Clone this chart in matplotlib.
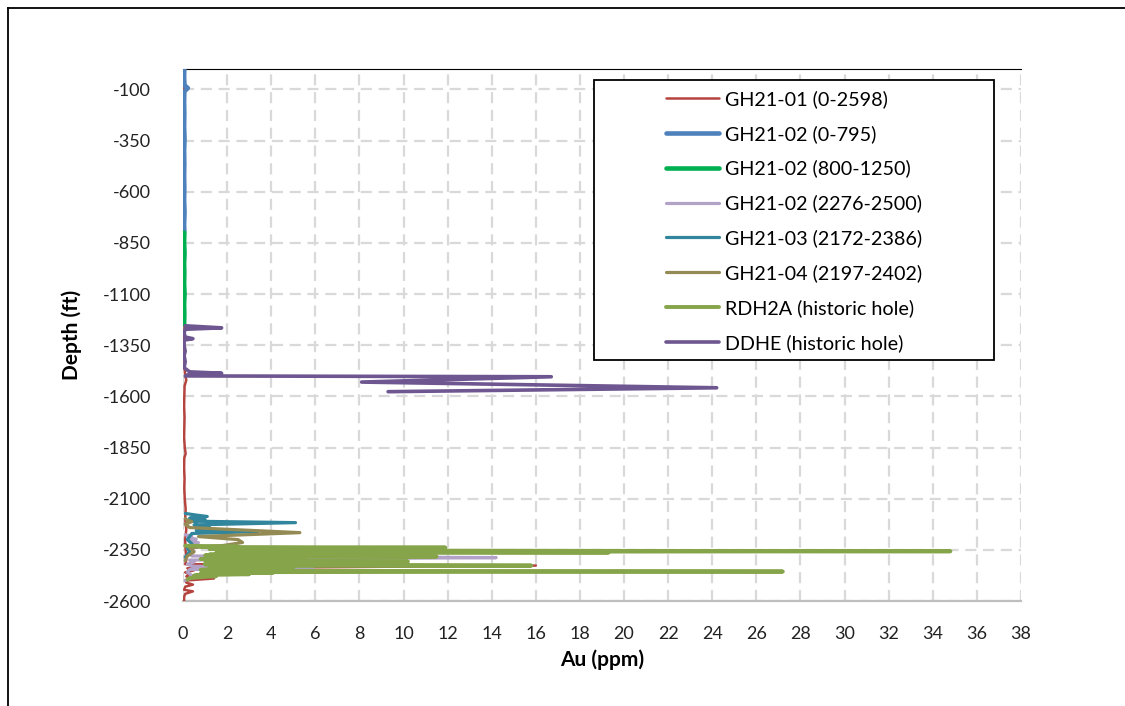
import matplotlib
matplotlib.use("Agg")
import matplotlib.pyplot as plt
from matplotlib.lines import Line2D
from matplotlib.patches import Rectangle

plt.rcParams['font.family'] = ['Lato', 'DejaVu Sans']

# ---- assay profiles: depth (ft, negative downwards) and gold grade (ppm) ----
gh2101_depth = [0, -50, -100, -150, -200, -250, -300, -350, -400, -450, -500,
                -550, -600, -650, -700, -750, -800, -850, -900, -950, -1000,
                -1050, -1100, -1150, -1200, -1250, -1300, -1350, -1400, -1450,
                -1500, -1520, -1550, -1600, -1650, -1700, -1750, -1800, -1850,
                -1880, -1900, -1950, -2000, -2050, -2100, -2150, -2200, -2250,
                -2300, -2350, -2400, -2420, -2427, -2440, -2450, -2460, -2470,
                -2480, -2490, -2500, -2510, -2520, -2530, -2545, -2553, -2565,
                -2580, -2598]
gh2101_au = [0.05, 0.06, 0.05, 0.07, 0.05, 0.06, 0.05, 0.07, 0.05, 0.06, 0.05,
             0.06, 0.05, 0.07, 0.05, 0.06, 0.05, 0.06, 0.05, 0.07, 0.05,
             0.06, 0.05, 0.06, 0.05, 0.07, 0.06, 0.05, 0.08, 0.06,
             0.10, 0.15, 0.07, 0.06, 0.05, 0.07, 0.06, 0.05, 0.08,
             0.12, 0.06, 0.05, 0.07, 0.06, 0.08, 0.12, 0.10, 0.15,
             0.10, 0.12, 0.15, 0.10, 16.0, 0.20, 0.50, 0.10, 0.30,
             0.15, 1.40, 0.10, 0.15, 0.45, 0.10, 0.05, 0.45, 0.10,
             0.05, 0.05]

gh2102a_depth = [0, -40, -80, -93, -110, -160, -220, -280, -340, -400, -460,
                 -520, -580, -640, -700, -760, -795]
gh2102a_au = [0.06, 0.05, 0.07, 0.22, 0.06, 0.05, 0.06, 0.05, 0.07, 0.05, 0.06,
              0.05, 0.06, 0.05, 0.07, 0.05, 0.06]

gh2102b_depth = [-800, -850, -900, -950, -1000, -1050, -1100, -1150, -1200, -1250]
gh2102b_au = [0.06, 0.05, 0.07, 0.05, 0.06, 0.05, 0.07, 0.05, 0.06, 0.05]

gh2102c_depth = [-2276, -2282, -2290, -2298, -2306, -2315, -2325, -2335, -2345,
                 -2355, -2365, -2380, -2388, -2393, -2400, -2410, -2420, -2430,
                 -2437, -2441, -2446, -2460, -2475, -2490, -2500]
gh2102c_au = [0.1, 0.4, 0.2, 0.6, 0.3, 0.7, 0.4, 0.3, 0.2,
              0.5, 0.3, 0.4, 14.2, 6.8, 0.3, 0.5, 0.2, 0.4,
              3.4, 5.9, 0.3, 0.2, 0.4, 0.3, 0.1]

gh2103_depth = [-2172, -2180, -2187, -2195, -2202, -2210, -2217, -2228, -2240,
                -2255, -2261, -2270, -2285, -2300, -2320, -2340, -2360, -2386]
gh2103_au = [0.1, 0.6, 1.1, 0.3, 1.0, 0.4, 5.1, 0.5, 1.2,
             0.6, 3.4, 0.4, 0.3, 0.2, 0.4, 0.2, 0.3, 0.1]

gh2104_depth = [-2197, -2205, -2212, -2225, -2241, -2266, -2285, -2300, -2314,
                -2329, -2340, -2360, -2380, -2402]
gh2104_au = [0.1, 0.2, 0.4, 0.1, 0.3, 5.3, 0.7, 2.5, 2.7,
             1.8, 0.3, 0.5, 0.2, 0.1]

rdh2a_depth = [-2330, -2334, -2336, -2339, -2342, -2344, -2346, -2348, -2350,
               -2352, -2353, -2357, -2360, -2363, -2365, -2367, -2369, -2371,
               -2373, -2375, -2377, -2379, -2383, -2385, -2387, -2389, -2391,
               -2393, -2395, -2397, -2399, -2401, -2403, -2407, -2409, -2411,
               -2413, -2415, -2417, -2419, -2421, -2423, -2427, -2429, -2431,
               -2433, -2436, -2438, -2440, -2442, -2444, -2446, -2448, -2450,
               -2452, -2456, -2459, -2461, -2464, -2466, -2469, -2471, -2474,
               -2476, -2479, -2482, -2488, -2495]
rdh2a_au = [0.1, 2.5, 0.8, 11.9, 2.5, 4.8, 1.2, 5.0, 1.5,
            3.8, 4.0, 34.8, 3.0, 19.3, 1.5, 4.5, 2.0, 6.5,
            1.2, 4.0, 1.0, 3.5, 11.5, 2.2, 5.0, 1.5, 5.5,
            2.0, 0.8, 4.2, 3.0, 1.0, 1.5, 10.2, 3.0, 2.5,
            5.0, 4.5, 1.0, 3.8, 1.0, 3.0, 15.8, 2.0, 4.5,
            1.5, 5.0, 2.2, 1.2, 4.0, 3.5, 1.0, 0.8, 3.2,
            2.5, 27.2, 2.0, 4.1, 1.0, 0.8, 3.0, 2.0, 0.6,
            0.5, 1.5, 1.0, 0.3, 0.2]

ddhe_depth = [-1255, -1265, -1272, -1290, -1310, -1318, -1325, -1350, -1380,
              -1400, -1430, -1460, -1480, -1487, -1495, -1500, -1504, -1530,
              -1558, -1577]
ddhe_au = [0.1, 1.75, 0.1, 0.05, 0.1, 0.45, 0.05, 0.05, 0.1,
           0.05, 0.1, 0.05, 0.3, 1.75, 0.2, 0.1, 16.7, 8.1,
           24.2, 9.3]

series_labels = ["GH21-01 (0-2598)", "GH21-02 (0-795)", "GH21-02 (800-1250)",
                 "GH21-02 (2276-2500)", "GH21-03 (2172-2386)",
                 "GH21-04 (2197-2402)", "RDH2A (historic hole)",
                 "DDHE (historic hole)"]

x_ticks = list(range(0, 39, 2))
y_ticks = list(range(-2600, 0, 250))

# ---- figure ----
W, H = 1125, 706
fig = plt.figure(figsize=(W / 100, H / 100), dpi=100)
fig.patch.set_facecolor("white")

ax = fig.add_axes([183 / W, 1 - 601 / H, 838 / W, 532 / H])

styles = [
    ("#B5443F", 1.8),
    ("#4F81BD", 3.3),
    ("#00B050", 3.3),
    ("#B3A2C7", 2.3),
    ("#31859C", 2.3),
    ("#948A54", 2.3),
    ("#86A44A", 2.8),
    ("#6E5690", 2.6),
]
data = [
    (gh2101_au, gh2101_depth),
    (gh2102a_au, gh2102a_depth),
    (gh2102b_au, gh2102b_depth),
    (gh2102c_au, gh2102c_depth),
    (gh2103_au, gh2103_depth),
    (gh2104_au, gh2104_depth),
    (rdh2a_au, rdh2a_depth),
    (ddhe_au, ddhe_depth),
]

handles = []
for (au, depth), (color, lw), label in zip(data, styles, series_labels):
    line, = ax.plot(au, depth, color=color, lw=lw, label=label,
                    solid_joinstyle="round", solid_capstyle="round", zorder=3)
    handles.append(line)

ax.set_xlim(0, 38)
ax.set_ylim(-2600, 0)
ax.set_xticks(x_ticks)
ax.set_yticks(y_ticks)
ax.set_xticklabels([str(v) for v in x_ticks])
ax.set_yticklabels([str(v) for v in y_ticks])
ax.tick_params(axis="both", length=0, labelsize=13, colors="#222222")
ax.tick_params(axis="y", pad=23)
ax.tick_params(axis="x", pad=18)

ax.grid(True, color="#D9D9D9", lw=1.6, linestyle=(0, (5, 3)), zorder=0)
ax.set_axisbelow(True)

for side in ("left", "right"):
    ax.spines[side].set_visible(False)
ax.spines["top"].set_color("#000000")
ax.spines["top"].set_linewidth(0.8)
ax.spines["bottom"].set_color("#BFBFBF")
ax.spines["bottom"].set_linewidth(1.6)

ax.set_xlabel("Au (ppm)", fontsize=15, fontweight="bold", labelpad=5)
ax.set_ylabel("Depth (ft)", fontsize=15, fontweight="bold", labelpad=15)

# legend box
fig.patches.append(Rectangle((594 / W, 1 - 360 / H), 400 / W, 280 / H,
                             transform=fig.transFigure, fill=True,
                             facecolor="white", edgecolor="black", lw=1.3,
                             zorder=5))
leg = fig.legend(handles=handles, loc="upper left",
                 bbox_to_anchor=(666 / W, 1 - 90 / H),
                 bbox_transform=fig.transFigure, frameon=False,
                 fontsize=14.2, handlelength=2.7, handletextpad=0.3,
                 labelspacing=0.86, borderpad=0, borderaxespad=0)
leg.set_zorder(6)

# outer chart border (top and left edges)
fig.lines.append(Line2D([8 / W, 1.0], [1 - 8 / H, 1 - 8 / H],
                        transform=fig.transFigure, color="black", lw=1.3))
fig.lines.append(Line2D([8 / W, 8 / W], [0, 1 - 8 / H],
                        transform=fig.transFigure, color="black", lw=1.3))

fig.savefig("out.png", dpi=100, facecolor="white")
